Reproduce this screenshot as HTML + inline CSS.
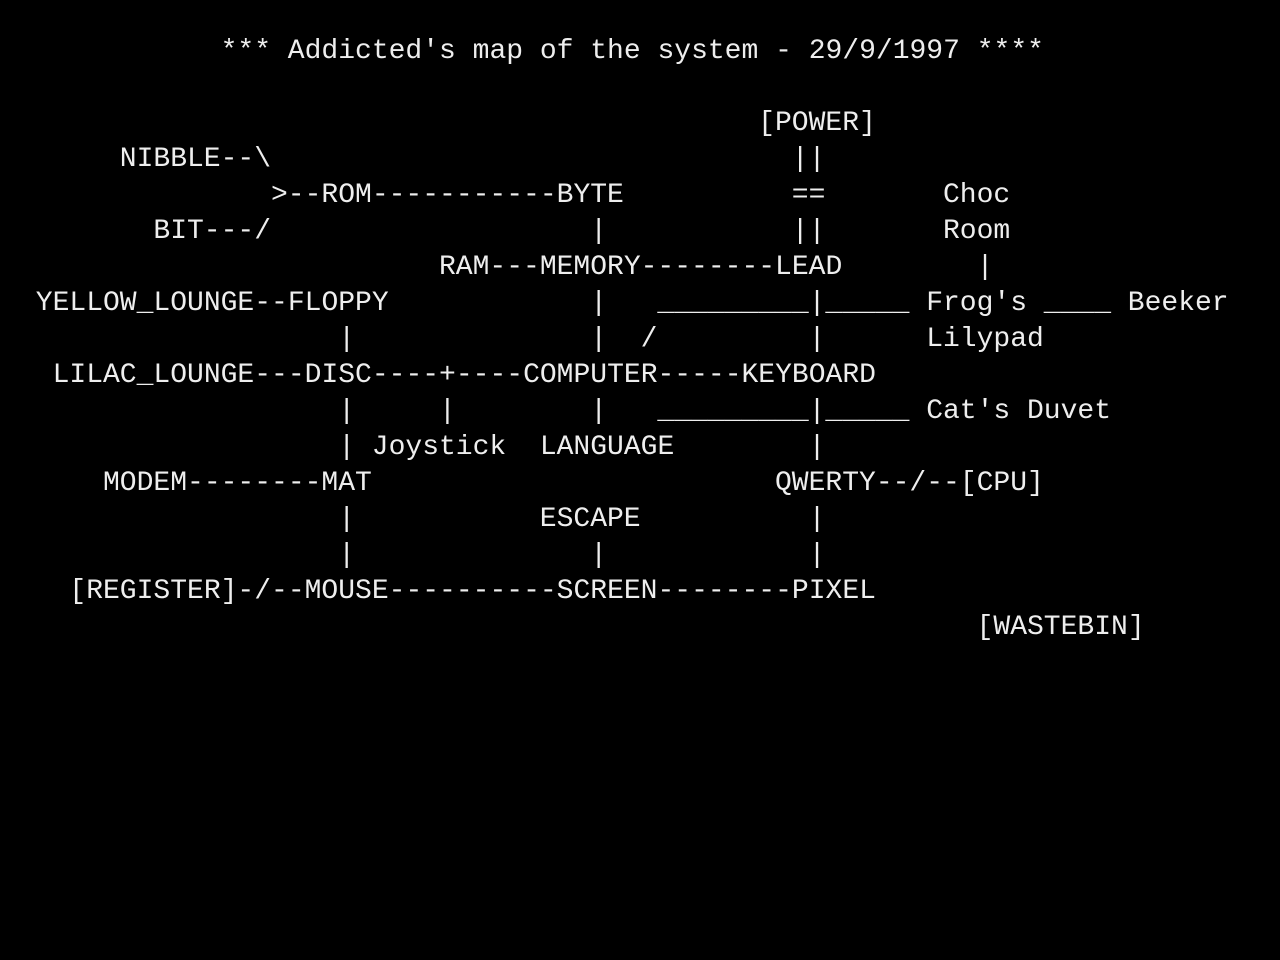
<!DOCTYPE html>
<html><head><meta charset="utf-8"><style>
html,body{margin:0;padding:0;background:#000;width:1280px;height:960px;overflow:hidden}
.t{position:absolute;white-space:pre;font-family:"Liberation Mono","DejaVu Sans Mono",monospace;font-size:28px;line-height:36px;color:#eee;margin-top:2px}
</style></head><body>
<span class="t" style="left:220.6px;top:32px">*** Addicted's map of the system - 29/9/1997 ****</span>
<span class="t" style="left:758.2px;top:104px">[POWER]</span>
<span class="t" style="left:119.8px;top:140px">NIBBLE--\</span>
<span class="t" style="left:791.8px;top:140px">||</span>
<span class="t" style="left:271px;top:176px">&gt;--ROM-----------BYTE</span>
<span class="t" style="left:791.8px;top:176px">==</span>
<span class="t" style="left:943px;top:176px">Choc</span>
<span class="t" style="left:153.4px;top:212px">BIT---/</span>
<span class="t" style="left:590.2px;top:212px">|</span>
<span class="t" style="left:791.8px;top:212px">||</span>
<span class="t" style="left:943px;top:212px">Room</span>
<span class="t" style="left:439px;top:248px">RAM---MEMORY--------LEAD</span>
<span class="t" style="left:976.6px;top:248px">|</span>
<span class="t" style="left:35.8px;top:284px">YELLOW_LOUNGE--FLOPPY</span>
<span class="t" style="left:590.2px;top:284px">|</span>
<span class="t" style="left:657.4px;top:284px">_________|_____</span>
<span class="t" style="left:926.2px;top:284px">Frog's</span>
<span class="t" style="left:1043.8px;top:284px">____</span>
<span class="t" style="left:1127.8px;top:284px">Beeker</span>
<span class="t" style="left:338.2px;top:320px">|</span>
<span class="t" style="left:590.2px;top:320px">|</span>
<span class="t" style="left:640.6px;top:320px">/</span>
<span class="t" style="left:808.6px;top:320px">|</span>
<span class="t" style="left:926.2px;top:320px">Lilypad</span>
<span class="t" style="left:52.6px;top:356px">LILAC_LOUNGE---DISC----+----COMPUTER-----KEYBOARD</span>
<span class="t" style="left:338.2px;top:392px">|</span>
<span class="t" style="left:439px;top:392px">|</span>
<span class="t" style="left:590.2px;top:392px">|</span>
<span class="t" style="left:657.4px;top:392px">_________|_____</span>
<span class="t" style="left:926.2px;top:392px">Cat's Duvet</span>
<span class="t" style="left:338.2px;top:428px">| Joystick  LANGUAGE</span>
<span class="t" style="left:808.6px;top:428px">|</span>
<span class="t" style="left:103px;top:464px">MODEM--------MAT</span>
<span class="t" style="left:775px;top:464px">QWERTY--/--[CPU]</span>
<span class="t" style="left:338.2px;top:500px">|</span>
<span class="t" style="left:539.8px;top:500px">ESCAPE</span>
<span class="t" style="left:808.6px;top:500px">|</span>
<span class="t" style="left:338.2px;top:536px">|</span>
<span class="t" style="left:590.2px;top:536px">|</span>
<span class="t" style="left:808.6px;top:536px">|</span>
<span class="t" style="left:69.4px;top:572px">[REGISTER]-/--MOUSE----------SCREEN--------PIXEL</span>
<span class="t" style="left:976.6px;top:608px">[WASTEBIN]</span>
</body></html>
